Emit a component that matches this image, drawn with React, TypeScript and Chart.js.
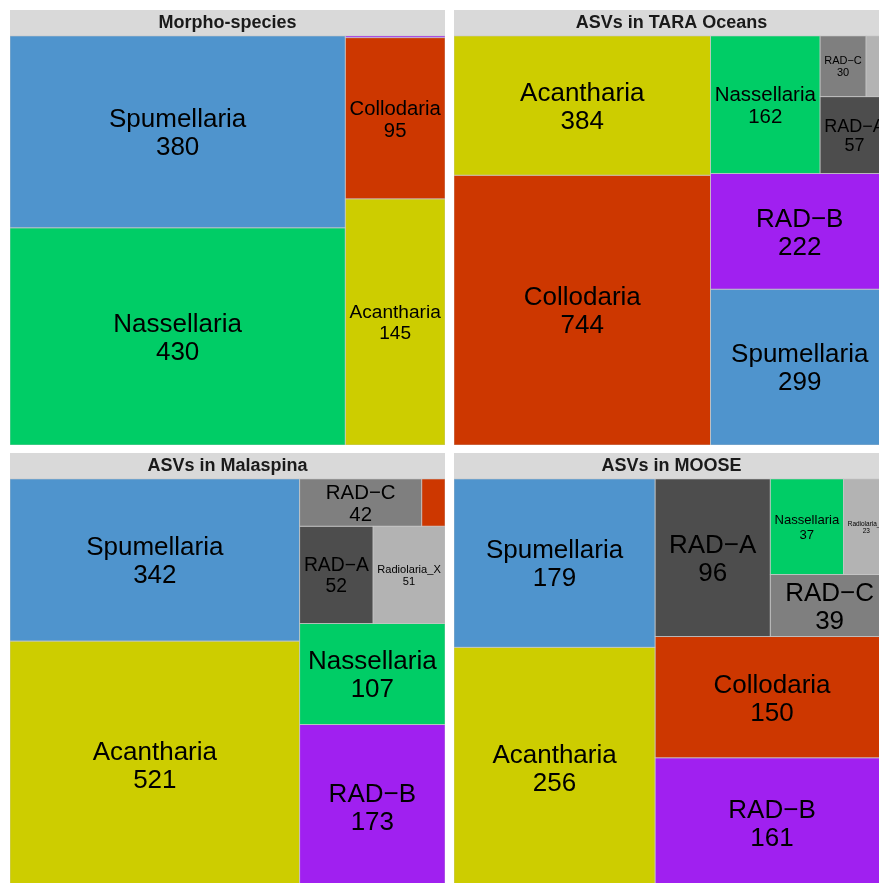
import React, { useEffect, useRef } from 'react';
import { Chart, registerables } from 'chart.js';

Chart.register(...registerables);

// ---- data ----
const categories = ['Spumellaria', 'Nassellaria', 'Collodaria', 'Acantharia', 'RAD−A', 'RAD−B', 'RAD−C', 'Radiolaria_X'];
const categoryColors = ['#4F94CD', '#00CD66', '#CD3700', '#CDCD00', '#4D4D4D', '#A020F0', '#7F7F7F', '#B3B3B3'];
const panelTitles = ['Morpho-species', 'ASVs in TARA Oceans', 'ASVs in Malaspina', 'ASVs in MOOSE'];
const morphoValues = [380, 430, 95, 145, 0, 1, 0, 0];
const taraValues = [299, 162, 744, 384, 57, 222, 30, 15];
const malaspinaValues = [342, 107, 8, 521, 52, 173, 42, 51];
const mooseValues = [179, 37, 150, 256, 96, 161, 39, 23];

const panelValues = [morphoValues, taraValues, malaspinaValues, mooseValues];

const FONT = '"Liberation Sans", Arial, Helvetica, sans-serif';
const MAX_FS = 26;
const PAD_X = 4.2;
const PAD_Y = 4.2;

type Cell = { i: number; v: number; x0: number; y0: number; x1: number; y1: number };

function squarify(values: number[]): Cell[] {
  const items = values
    .map((v, i) => ({ i, v }))
    .filter((d) => d.v > 0)
    .sort((a, b) => b.v - a.v);
  const total = items.reduce((s, d) => s + d.v, 0);
  let rest = items.map((d) => ({ ...d, a: d.v / total }));
  let x = 0, y = 0, w = 1, h = 1;
  const out: Cell[] = [];
  const worst = (row: { a: number }[], s: number) => {
    const sum = row.reduce((t, r) => t + r.a, 0);
    const mx = Math.max(...row.map((r) => r.a));
    const mn = Math.min(...row.map((r) => r.a));
    return Math.max((s * s * mx) / (sum * sum), (sum * sum) / (s * s * mn));
  };
  while (rest.length) {
    const s = Math.min(w, h);
    let n = 1;
    while (n < rest.length && worst(rest.slice(0, n + 1), s) <= worst(rest.slice(0, n), s)) n++;
    const row = rest.slice(0, n);
    const sum = row.reduce((t, r) => t + r.a, 0);
    if (w >= h) {
      const cw = sum / h;
      let yy = y;
      for (const r of row) {
        const rh = r.a / cw;
        out.push({ i: r.i, v: r.v, x0: x, x1: x + cw, y0: yy, y1: yy + rh });
        yy += rh;
      }
      x += cw;
      w -= cw;
    } else {
      const rh = sum / w;
      let xx = x;
      for (const r of row) {
        const rw = r.a / rh;
        out.push({ i: r.i, v: r.v, x0: xx, x1: xx + rw, y0: y, y1: y + rh });
        xx += rw;
      }
      y += rh;
      h -= rh;
    }
    rest = rest.slice(n);
  }
  return out;
}

const treemapPlugin = {
  id: 'treemapCells',
  beforeDraw(chart: any) {
    const { ctx, chartArea, width } = chart;
    ctx.save();
    ctx.fillStyle = '#D9D9D9';
    ctx.fillRect(0, 0, width, chartArea.top);
    ctx.restore();
  },
  afterDatasetsDraw(chart: any) {
    const ctx = chart.ctx as CanvasRenderingContext2D;
    const cells: Cell[] = chart.data.datasets[0].cells;
    const xs = chart.scales.x;
    const ys = chart.scales.y;
    ctx.save();
    const rects = cells.map((c) => ({
      c,
      l: xs.getPixelForValue(c.x0),
      r: xs.getPixelForValue(c.x1),
      t: ys.getPixelForValue(c.y1),
      b: ys.getPixelForValue(c.y0),
    }));
    for (const q of rects) {
      ctx.fillStyle = categoryColors[q.c.i];
      ctx.fillRect(q.l, q.t, q.r - q.l, q.b - q.t);
    }
    ctx.strokeStyle = 'rgba(200,200,200,0.7)';
    ctx.lineWidth = 0.8;
    for (const q of rects) {
      ctx.strokeRect(q.l, q.t, q.r - q.l, q.b - q.t);
    }
    ctx.fillStyle = '#000000';
    ctx.textAlign = 'center';
    ctx.textBaseline = 'alphabetic';
    for (const q of rects) {
      const lines = [categories[q.c.i], String(q.c.v)];
      ctx.font = `100px ${FONT}`;
      const wRef = Math.max(...lines.map((s) => ctx.measureText(s).width)) / 100;
      const w = q.r - q.l;
      const h = q.b - q.t;
      const fs = Math.min(MAX_FS, (w - 2 * PAD_X) / wRef, (h - 2 * PAD_Y) / 1.9);
      if (fs < 4) continue;
      ctx.font = `${fs}px ${FONT}`;
      const L = 1.08 * fs;
      const cap = 0.716 * fs;
      const cx = (q.l + q.r) / 2;
      const cy = (q.t + q.b) / 2;
      const base1 = cy - (cap + L) / 2 + cap;
      ctx.fillText(lines[0], cx, base1);
      ctx.fillText(lines[1], cx, base1 + L);
    }
    ctx.restore();
  },
};

function Panel({ title, values, left, top }: { title: string; values: number[]; left: number; top: number }) {
  const ref = useRef<HTMLCanvasElement | null>(null);
  useEffect(() => {
    if (!ref.current) return;
    const cells = squarify(values);
    const chart = new Chart(ref.current, {
      type: 'scatter',
      data: {
        datasets: [
          {
            label: title,
            data: cells.map((c) => ({ x: (c.x0 + c.x1) / 2, y: (c.y0 + c.y1) / 2 })),
            pointRadius: 0,
            pointHoverRadius: 0,
            cells,
          } as any,
        ],
      },
      options: {
        animation: false,
        responsive: false,
        maintainAspectRatio: false,
        events: [],
        layout: { padding: 0 },
        scales: {
          x: { type: 'linear', min: 0, max: 1, display: false },
          y: { type: 'linear', min: 0, max: 1, display: false },
        },
        plugins: {
          legend: { display: false },
          tooltip: { enabled: false },
          title: {
            display: true,
            text: title,
            color: '#1A1A1A',
            font: { family: FONT, size: 18, weight: 'bold', lineHeight: 1.2 },
            padding: { top: 2.0, bottom: 2.4 },
          },
        },
      },
      plugins: [treemapPlugin],
    });
    return () => chart.destroy();
  }, [title, values]);
  return (
    <canvas
      ref={ref}
      width={435}
      height={435}
      style={{ position: 'absolute', left, top, width: 435, height: 435 }}
    />
  );
}

const positions = [
  { left: 10, top: 10 },
  { left: 454, top: 10 },
  { left: 10, top: 453 },
  { left: 454, top: 453 },
];

export default function App() {
  return (
    <div
      style={{
        position: 'fixed',
        left: 0,
        top: 0,
        width: 879,
        height: 883,
        overflow: 'hidden',
        background: '#ffffff',
      }}
    >
      {panelTitles.map((t, k) => (
        <Panel key={k} title={t} values={panelValues[k]} left={positions[k].left} top={positions[k].top} />
      ))}
    </div>
  );
}
